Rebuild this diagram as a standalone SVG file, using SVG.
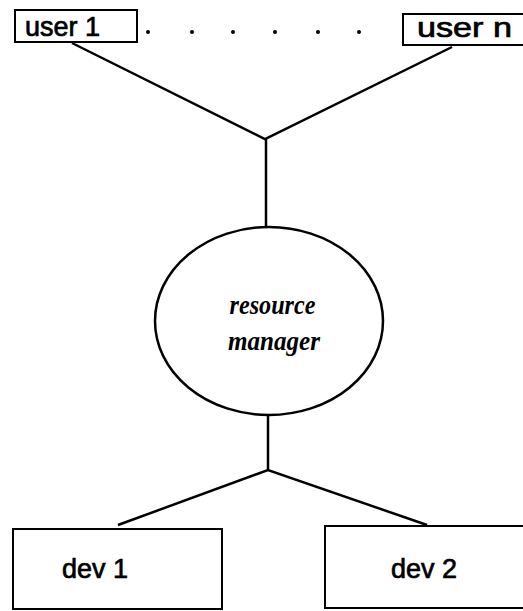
<svg xmlns="http://www.w3.org/2000/svg" width="523" height="611" viewBox="0 0 523 611">
<style>
.box{fill:#fff;stroke:#000;stroke-width:2}
.lbl{font-family:"Liberation Sans",Arial,sans-serif;font-size:27px;fill:#000;stroke:#000;stroke-width:0.7}
.it{font-family:"Liberation Serif","Times New Roman",serif;font-style:italic;font-weight:bold;font-size:27px;fill:#000;text-anchor:middle}
.conn{fill:none;stroke:#000;stroke-width:2.5;stroke-linejoin:miter}
.dot{fill:#000}
</style>
<rect width="523" height="611" fill="#fff"/>
<g id="connectors">
<polyline class="conn" points="72,43 265,139 452,47"/>
<line class="conn" x1="266" y1="139" x2="266" y2="227"/>
<line class="conn" x1="268" y1="415" x2="268" y2="470"/>
<polyline class="conn" points="118,525 268,470 427,525"/>
</g>
<g id="user1">
<rect class="box" x="15" y="10" width="122" height="32"/>
<text class="lbl" x="25" y="36">user 1</text>
</g>
<g id="ellipsis">
<circle class="dot" cx="148" cy="32" r="2"/>
<circle class="dot" cx="192" cy="32" r="2"/>
<circle class="dot" cx="233" cy="32" r="2"/>
<circle class="dot" cx="275" cy="32" r="2"/>
<circle class="dot" cx="318" cy="32" r="2"/>
<circle class="dot" cx="359" cy="32" r="2"/>
</g>
<g id="usern">
<rect class="box" x="403" y="14" width="125" height="31"/>
<text class="lbl" x="417" y="37" textLength="95" lengthAdjust="spacingAndGlyphs">user n</text>
</g>
<g id="resource-manager">
<ellipse cx="269" cy="321" rx="114" ry="94" fill="#fff" stroke="#000" stroke-width="2.5"/>
<text class="it" x="272.5" y="314" textLength="86" lengthAdjust="spacingAndGlyphs">resource</text>
<text class="it" x="274" y="350" textLength="92" lengthAdjust="spacingAndGlyphs">manager</text>
</g>
<g id="dev1">
<rect class="box" x="13" y="529" width="209" height="80"/>
<text class="lbl" x="62" y="578">dev 1</text>
</g>
<g id="dev2">
<rect class="box" x="325" y="526" width="205" height="82"/>
<text class="lbl" x="391" y="578">dev 2</text>
</g>
</svg>
